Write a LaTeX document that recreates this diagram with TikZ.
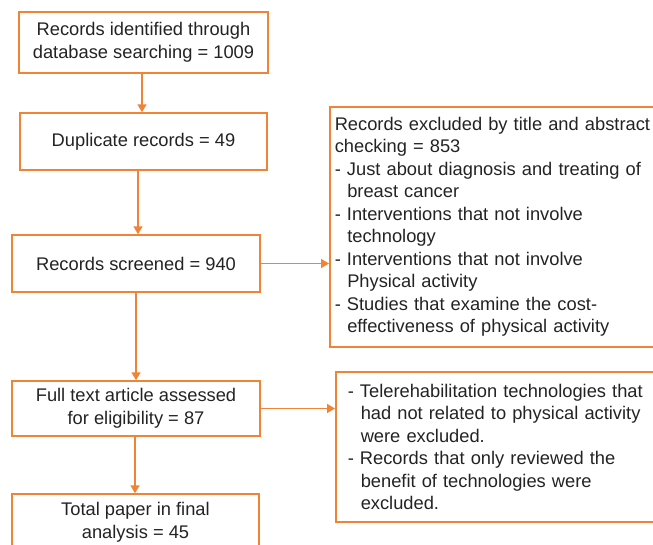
\documentclass[tikz,border=0pt]{standalone}
\usepackage{fontspec}
\setmainfont{Liberation Sans}
\usetikzlibrary{arrows.meta}
\definecolor{orn}{RGB}{241,131,52}
\definecolor{txt}{RGB}{35,35,35}
\begin{document}
\begin{tikzpicture}[x=1pt,y=-1pt,
  box/.style={draw=orn,line width=1.5pt,text=txt,align=center,inner sep=0pt,
    font=\fontsize{18.3}{22.5}\selectfont},
  side/.style={draw=orn,line width=1.5pt,text=txt,align=left,anchor=north west,
    font=\fontsize{18.3}{22.5}\selectfont},
  arr/.style={draw=orn,line width=1.6pt,-{Triangle[length=8pt,width=9pt]}}]
\useasboundingbox (0,0) rectangle (653,544);
\node[box,minimum width=249pt,minimum height=61pt] (b1) at (143.5,42.5)
  {Records identified through\\database searching = 1009};
\node[box,minimum width=247pt,minimum height=57pt] (b2) at (143.5,141.5)
  {Duplicate records = 49};
\node[box,minimum width=248pt,minimum height=57pt] (b3) at (136,263.5)
  {Records screened = 940};
\node[box,minimum width=248pt,minimum height=55pt] (b4) at (136,408.5)
  {Full text article assessed\\for eligibility = 87};
\node[box,minimum width=247pt,minimum height=57pt] (b5) at (135.5,522.5)
  {Total paper in final\\analysis = 45};
\node[side,minimum height=240pt,text width=340pt,inner xsep=5pt,inner ysep=0pt] (r1) at (329,106)
  {Records excluded by title and abstract\\
   checking = 853\\
   - Just about diagnosis and treating of\\
   \hspace*{12.5pt}breast cancer\\
   - Interventions that not involve\\
   \hspace*{12.5pt}technology\\
   - Interventions that not involve\\
   \hspace*{12.5pt}Physical activity\\
   - Studies that examine the cost-\\
   \hspace*{12.5pt}effectiveness of physical activity};
\node[side,minimum height=150pt,text width=330pt,inner xsep=12pt,inner ysep=0pt] (r2) at (335,371)
  {- Telerehabilitation technologies that\\
   \hspace*{13pt}had not related to physical activity\\
   \hspace*{13pt}were excluded.\\
   - Records that only reviewed the\\
   \hspace*{13pt}benefit of technologies were\\
   \hspace*{13pt}excluded.};
\draw[arr] ([xshift=-1.5pt]b1.south) -- ([xshift=-1.5pt]b1.south |- b2.north);
\draw[arr] ([xshift=-5.5pt]b2.south) -- ([xshift=-5.5pt]b2.south |- b3.north);
\draw[arr] (b3.south) -- (b3.south |- b4.north);
\draw[arr] ([xshift=-1pt]b4.south) -- ([xshift=-1pt]b4.south |- b5.north);
\draw[arr] (b3.east) -- (b3.east -| r1.west);
\draw[arr] (b4.east) -- (b4.east -| r2.west);
\end{tikzpicture}
\end{document}
